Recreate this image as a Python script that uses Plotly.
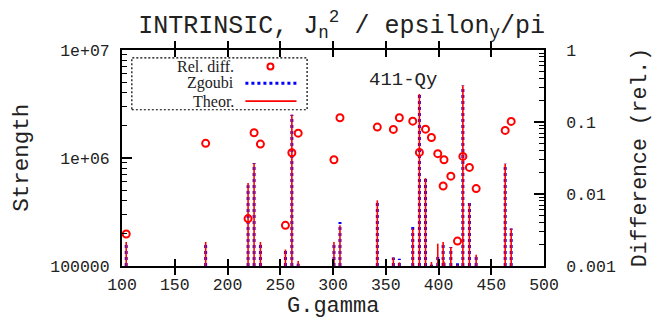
import plotly.graph_objects as go

# ---- data ----
ggamma = [104.0, 179.3, 219.5, 225.2, 231.2, 254.9, 261.0, 267.0, 300.9, 306.6,
          342.0, 357.2, 362.9, 375.6, 381.9, 387.7, 393.3, 399.3, 404.4, 405.2,
          411.7, 418.0, 423.1, 429.3, 435.7, 463.2, 468.9]
theor = [1.67e5, 1.67e5, 5.86e5, 8.97e5, 1.67e5, 1.42e5, 2.51e6, 1.11e5, 1.67e5, 2.38e5,
         4.05e5, 1.20e5, 1.08e5, 2.22e5, 3.92e6, 6.51e5, 1.09e5, 1.61e5, 1.67e5, 1.10e5,
         1.50e5, 1.03e5, 4.70e6, 3.83e5, 1.27e5, 8.86e5, 2.22e5]
zgoubi = [1.67e5, 1.67e5, 5.60e5, 8.97e5, 1.67e5, 1.42e5, 2.51e6, 1.05e5, 1.67e5, 2.55e5,
          4.05e5, 1.20e5, 1.17e5, 2.43e5, 3.92e6, 6.51e5, 1.03e5, 1.21e5, 1.67e5, 1.10e5,
          1.50e5, 1.06e5, 4.70e6, 3.83e5, 1.27e5, 8.86e5, 2.22e5]
reldiff = [0.00278, 0.0505, 0.00455, 0.071, 0.0493, 0.00367, 0.0374, 0.070, 0.0299, 0.1146,
           0.0849, 0.0789, 0.1146, 0.1028, 0.0378, 0.0796, 0.061, 0.0363, 0.0129, 0.0299,
           0.0177, 0.00222, 0.0333, 0.0234, 0.0119, 0.0764, 0.102]

x_ticks = [100, 150, 200, 250, 300, 350, 400, 450, 500]
y_ticks = [1e5, 1e6, 1e7]
y_ticktext = ["100000", "1e+06", "1e+07"]
y2_ticks = [0.001, 0.01, 0.1, 1]
y2_ticktext = ["0.001", "0.01", "0.1", "1"]

BASE = 1e5


def impulses(xs, ys):
    X, Y = [], []
    for xv, yv in zip(xs, ys):
        X += [xv, xv, None]
        Y += [BASE, yv, None]
    return X, Y


MONO = "Liberation Mono"
SERIF = "Liberation Serif"
TXT = "#222222"

fig = go.Figure()
zx, zy = impulses(ggamma, zgoubi)
fig.add_trace(go.Scatter(x=zx, y=zy, mode="lines", name="Zgoubi",
                         line=dict(color="#0000ff", width=3, dash="3px,3px"),
                         showlegend=False, hoverinfo="skip"))
tx, ty = impulses(ggamma, theor)
fig.add_trace(go.Scatter(x=tx, y=ty, mode="lines", name="Theor.",
                         line=dict(color="#ff0000", width=1.6),
                         showlegend=False, hoverinfo="skip"))
fig.add_trace(go.Scatter(x=ggamma, y=reldiff, mode="markers", name="Rel. diff.", yaxis="y2",
                         marker=dict(symbol="circle-open", size=7, color="#ff0000",
                                     line=dict(width=2, color="#ff0000")),
                         showlegend=False))

axis_common = dict(showline=True, linecolor="black", linewidth=2, showgrid=False,
                   zeroline=False, ticks="inside", tickcolor="black",
                   tickfont=dict(family=MONO, size=16.5, color=TXT))

fig.update_layout(
    width=657, height=322,
    margin=dict(l=122, r=113, t=50, b=56),
    paper_bgcolor="white", plot_bgcolor="white",
    title=dict(text="INTRINSIC, J<sub>n</sub><sup>2</sup> / epsilon<sub>y</sub>/pi",
               font=dict(family=MONO, size=25, color=TXT),
               x=0.52, xanchor="center", y=0.925, yanchor="middle", xref="container", yref="container"),
    xaxis=dict(range=[100, 500], tickvals=x_ticks, ticklen=7, tickwidth=1.5,
               mirror="allticks", ticklabelstandoff=2, **axis_common),
    yaxis=dict(type="log", range=[5, 7], tickvals=y_ticks, ticktext=y_ticktext,
               ticklen=10, tickwidth=1.5, mirror=True, ticklabelstandoff=7,
               minor=dict(ticks="inside", ticklen=5, tickwidth=1, tickcolor="black", dtick="D1"),
               **axis_common),
    yaxis2=dict(type="log", range=[-3, 0], tickvals=y2_ticks, ticktext=y2_ticktext,
                overlaying="y", side="right", anchor="x", ticklen=10, tickwidth=1.5,
                ticklabelstandoff=17,
                minor=dict(ticks="inside", ticklen=5, tickwidth=1, tickcolor="black", dtick="D1"),
                **axis_common),
)

# axis titles
fig.add_annotation(text="G.gamma", xref="paper", yref="paper", x=0.5, y=-0.188,
                   xanchor="center", yanchor="middle", showarrow=False,
                   font=dict(family=MONO, size=22, color=TXT))
fig.add_annotation(text="Strength", xref="paper", yref="paper", x=-0.236, y=0.503,
                   xanchor="center", yanchor="middle", showarrow=False, textangle=-90,
                   font=dict(family=MONO, size=22.5, color=TXT))
fig.add_annotation(text="Difference (rel.)", xref="paper", yref="paper", x=1.228, y=0.5,
                   xanchor="center", yanchor="middle", showarrow=False, textangle=-90,
                   font=dict(family=MONO, size=21.5, color=TXT))
fig.add_annotation(text="411-Qy", xref="paper", yref="paper", x=0.666, y=0.862,
                   xanchor="center", yanchor="middle", showarrow=False,
                   font=dict(family=MONO, size=19, color=TXT))

# manual legend (gnuplot style: text right-aligned, sample on the right)
fig.add_shape(type="rect", xref="paper", yref="paper", x0=0.0233, x1=0.4386, y0=0.7234, y1=0.964,
              line=dict(color="black", width=1.2, dash="2px,2px"), fillcolor="white", layer="above")
rows = [("Rel. diff.", 0.9237), ("Zgoubi", 0.8464), ("Theor.", 0.7632)]
for name, yy in rows:
    fig.add_annotation(text=name, xref="paper", yref="paper", x=0.2707, y=yy,
                       xanchor="right", yanchor="middle", showarrow=False,
                       font=dict(family=SERIF, size=16, color=TXT))
fig.add_shape(type="circle", xref="paper", yref="paper", xsizemode="pixel", ysizemode="pixel",
              xanchor=0.3518, yanchor=0.9237, x0=-3, x1=3, y0=-3, y1=3,
              line=dict(color="#ff0000", width=2), layer="above")
fig.add_shape(type="line", xref="paper", yref="paper", x0=0.2924, x1=0.4135, y0=0.8464, y1=0.8464,
              line=dict(color="#0000ff", width=3, dash="3px,3px"), layer="above")
fig.add_shape(type="line", xref="paper", yref="paper", x0=0.2924, x1=0.4135, y0=0.7632, y1=0.7632,
              line=dict(color="#ff0000", width=1.6), layer="above")

fig.write_html("out.html")
